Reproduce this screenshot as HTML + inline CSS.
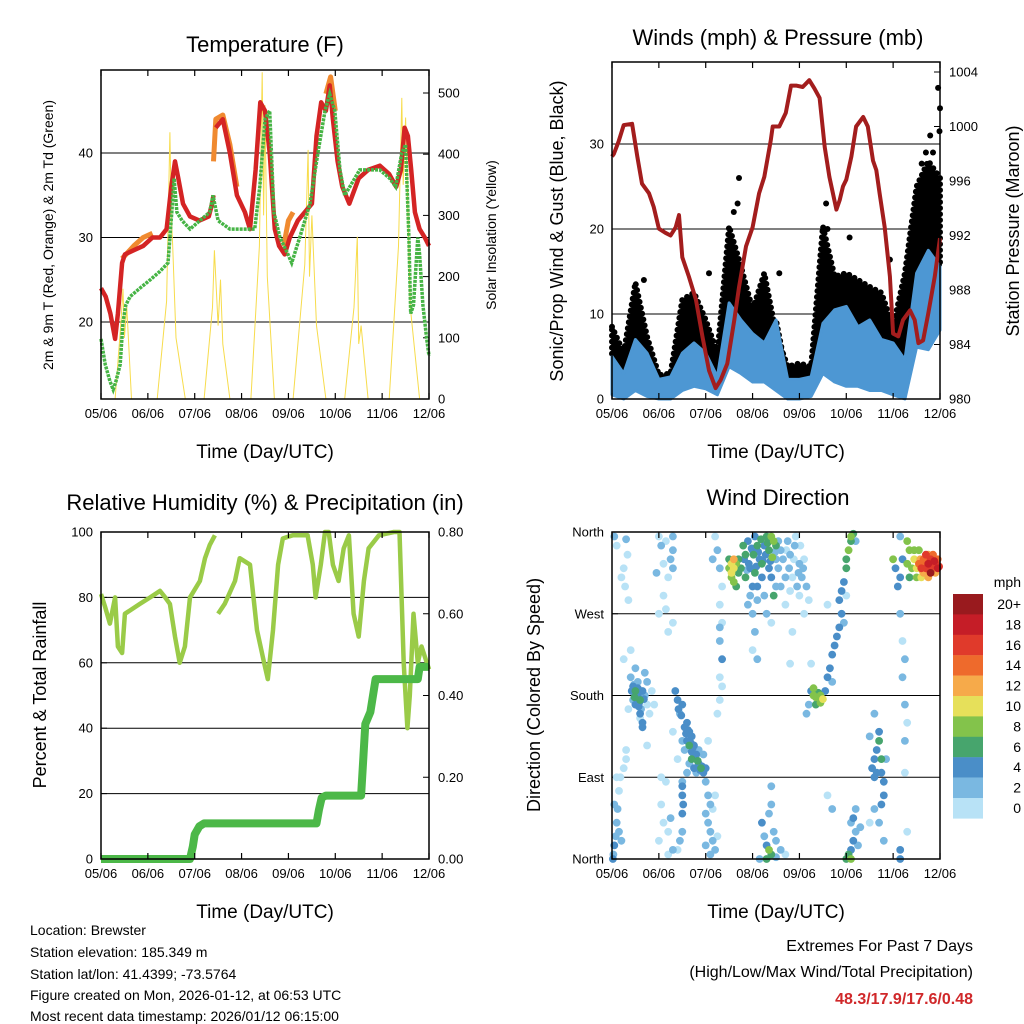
<!DOCTYPE html>
<html><head><meta charset="utf-8"><style>
body{margin:0;background:#fff}
svg{display:block;font-family:"Liberation Sans",sans-serif}
</style></head><body>
<svg id="svg" width="1024" height="1024" viewBox="0 0 1024 1024" xmlns="http://www.w3.org/2000/svg">
<rect width="1024" height="1024" fill="#fff"/>
<g id="layer"></g>
<text x="265" y="52" font-size="22" text-anchor="middle">Temperature (F)</text>
<text x="778" y="45" font-size="22" text-anchor="middle">Winds (mph) &amp; Pressure (mb)</text>
<text x="265" y="510" font-size="22" text-anchor="middle">Relative Humidity (%) &amp; Precipitation (in)</text>
<text x="778" y="505" font-size="22" text-anchor="middle">Wind Direction</text>
<text x="265" y="458" font-size="19" text-anchor="middle">Time (Day/UTC)</text>
<text x="776" y="458" font-size="19" text-anchor="middle">Time (Day/UTC)</text>
<text x="265" y="918" font-size="19" text-anchor="middle">Time (Day/UTC)</text>
<text x="776" y="918" font-size="19" text-anchor="middle">Time (Day/UTC)</text>
<text transform="translate(53,235) rotate(-90)" font-size="14" text-anchor="middle">2m &amp; 9m T (Red, Orange) &amp; 2m Td (Green)</text>
<text transform="translate(496,235) rotate(-90)" font-size="14" text-anchor="middle">Solar Insolation (Yellow)</text>
<text transform="translate(563,231) rotate(-90)" font-size="18" text-anchor="middle">Sonic/Prop Wind &amp; Gust (Blue, Black)</text>
<text transform="translate(1019,231) rotate(-90)" font-size="18" text-anchor="middle">Station Pressure (Maroon)</text>
<text transform="translate(46,695) rotate(-90)" font-size="18" text-anchor="middle">Percent &amp; Total Rainfall</text>
<text transform="translate(540,695) rotate(-90)" font-size="18" text-anchor="middle">Direction (Colored By Speed)</text>
<text x="1021" y="587" font-size="14" text-anchor="end">mph</text>
<g font-size="14">
<text x="30" y="935">Location: Brewster</text>
<text x="30" y="957">Station elevation: 185.349 m</text>
<text x="30" y="979">Station lat/lon: 41.4399; -73.5764</text>
<text x="30" y="1000">Figure created on Mon, 2026-01-12, at 06:53 UTC</text>
<text x="30" y="1021">Most recent data timestamp: 2026/01/12 06:15:00</text>
</g>
<g font-size="16" text-anchor="end">
<text x="973" y="951">Extremes For Past 7 Days</text>
<text x="973" y="977">(High/Low/Max Wind/Total Precipitation)</text>
<text x="973" y="1004" fill="#d0282a" font-weight="bold">48.3/17.9/17.6/0.48</text>
</g>
</svg>
<script>
// ---------- data ----------
const dayLabels=["05/06","06/06","07/06","08/06","09/06","10/06","11/06","12/06"];
const tempT=[0,0.1,0.2,0.3,0.36,0.45,0.51,0.7,0.9,1.1,1.26,1.4,1.5,1.58,1.65,1.75,1.9,2.1,2.3,2.37,2.4,NaN,2.45,2.6,2.75,2.9,3.07,3.18,3.3,3.4,3.5,3.6,3.71,3.8,3.92,4.03,4.2,4.35,4.5,4.6,4.7,4.8,4.88,4.95,5.05,5.15,5.3,5.5,5.7,5.95,6.15,6.3,6.4,6.48,6.55,6.62,6.7,6.8,6.91,7];
const tempRed=[24,23,21,18,21,27,28,28.5,29,30,30,31,36,39,37,34,32.5,32,32.5,34,35,NaN,43,44,40,35,33,31,38,46,45,40,31,29,28,30,32,33,34,42,46,45,48,44,39,36,34,37,38,38.5,37.5,36,38,43,42,38,33,31,30,29];
const orangeT=[0.45,0.7,0.9,1.1,NaN,2.4,2.45,2.6,2.75,2.9,NaN,3.9,4.0,4.1,NaN,4.8,4.9,5.0];
const tempOrange=[27.5,29,30,30.5,NaN,39,44,44.5,41,36,NaN,29,32,33,NaN,47,49,45];
const dewT=[0,0.09,0.19,0.26,0.32,0.41,0.47,0.53,0.62,0.83,1.05,1.26,1.43,1.51,1.56,1.62,1.73,1.9,2.11,2.32,2.39,2.5,2.75,3.07,3.28,3.39,3.5,3.6,3.69,3.82,3.99,4.07,4.24,4.46,4.63,4.78,4.88,4.99,5.1,5.2,5.31,5.52,5.95,6.16,6.29,6.42,6.5,6.57,6.61,6.67,6.76,6.8,6.87,6.95,7];
const dewG=[18,15,13,12,13,15,20,22,23,24,25,26,27,33,37,33,32,31,32,33,35,32,31,31,31,36,44,45,33,30,28,27,30,34,40,45,47,45,38,35,36,38,38,37,36,40,41,30,21,22,30,28,22,18,16];
const solarT=[0,0.3,0.42,0.47,0.5,0.55,0.65,1.2,1.4,1.47,1.5,1.53,1.6,1.8,2.2,2.38,2.42,2.5,2.55,2.6,2.75,3.2,3.38,3.44,3.47,3.5,3.55,3.7,4.1,4.35,4.42,4.45,4.5,4.6,4.8,5.2,5.4,5.47,5.5,5.55,5.7,6.15,6.35,6.42,6.45,6.5,6.6,6.8,7];
const solarV=[0,0,120,180,100,150,0,0,160,436,300,250,100,0,0,150,243,120,195,90,0,0,250,534,300,480,200,0,0,220,407,200,300,120,0,0,150,265,90,120,0,0,250,492,350,460,150,0,0];
const windT=[0,0.25,0.5,0.75,1,1.25,1.5,1.75,2,2.25,2.5,2.75,3,3.25,3.5,3.75,4,4.25,4.5,4.75,5,5.25,5.5,5.75,6,6.25,6.5,6.75,7];
const windHi=[5,3,7,5.4,2.3,2.6,5.4,6.6,5.4,2.6,11.3,9.3,7.7,6.6,9.3,2.3,2.3,2.6,8.9,10.5,10.9,8.5,9.3,7,6.6,4.6,14.8,17.5,15.6];
const windLo=[0.5,0,1,0.3,0,0,1,1.5,1.2,0.5,3.8,3,2,2,1,0,0,0.3,3,2,1.5,1.5,1,1,0.5,0,6.1,5.8,8.1];
const gustHi=[8.5,5.4,13.7,7.3,2.8,3,11.7,12.5,9.3,5.4,20.3,15.6,10.5,14.8,7.7,3.8,4.2,3.8,20.3,14.4,14.8,14,13.2,12.5,8.5,14.8,25,28,26];
const gustOutT=[2.71,2.68,4.57,5.07,5.93,6.96,7.0,6.79,6.99,6.61,2.07,0.68,3.57,2.6,4.6,6.55,6.7,6.85];
const gustOutV=[26,23,23,19,16.4,36.6,34.2,31,31.5,27.7,14.8,14,14.8,22,20,24,29,29];
const presT=[0,0.04,0.14,0.25,0.43,0.54,0.64,0.79,0.89,1.0,1.14,1.25,1.36,1.43,1.5,1.64,1.79,1.93,2.07,2.21,2.32,2.46,2.61,2.71,2.86,3.0,3.14,3.25,3.39,3.43,3.57,3.71,3.82,3.93,4.07,4.21,4.32,4.43,4.54,4.64,4.79,4.86,4.93,5.0,5.11,5.21,5.36,5.46,5.57,5.64,5.71,5.82,5.93,6.0,6.11,6.21,6.36,6.46,6.54,6.64,6.75,6.89,7];
const presV=[997.8,998,998.9,1000.1,1000.2,997.8,995.8,995.1,994.1,992.5,992.2,992,992.6,993.5,990.4,989,987.3,984.6,982.1,980.8,981.4,982.6,985.8,988.2,991.2,992.6,995.1,996.3,999,1000,1000,1001,1003,1003,1002.9,1003.4,1002.8,1002.1,998.5,996.3,993.9,994.6,995.6,996.1,997.8,1000,1000.7,1000,997.5,996.8,995.1,992.6,989,984.8,984.6,985.8,986.5,985.8,984.1,984.3,986.3,989,991.8];
const rhT=[0,0.09,0.19,0.3,0.36,0.45,0.51,0.83,1.05,1.26,1.37,1.47,1.58,1.68,1.79,1.9,2.11,2.22,2.32,2.43,NaN,2.5,2.64,2.86,2.96,3.18,3.33,3.48,3.56,3.67,3.78,3.88,4.09,4.41,4.52,4.58,4.69,4.78,4.86,4.95,5.07,5.18,5.29,5.39,5.5,5.61,5.71,5.93,6.25,6.37,6.46,6.54,6.59,6.67,6.76,6.84,7];
const rhV=[81,77,72,80,65,63,75,78,80,82,80,78,68,60,65,80,85,92,96,99,NaN,75,78,85,92,90,70,60,55,70,90,98,99,99,90,80,90,100,100,90,85,95,99,75,68,85,95,99,100,100,60,40,50,75,60,65,58];
const precipT=[0,1.9,1.96,2.0,2.1,2.2,4.6,4.65,4.71,4.8,5.55,5.6,5.64,5.75,5.86,5.95,6.76,6.8,7];
const precipV=[0,0,0.03,0.06,0.08,0.087,0.087,0.12,0.15,0.155,0.155,0.25,0.33,0.36,0.44,0.44,0.44,0.47,0.47];
const dirT=[
0.05,0.1,0.3,0.33,0.25,0.28,0.35,0.2,
0.03,0.05,0.08,0.1,0.12,0.15,0.18,0.05,0.2,0.1,0.02,0.15,0.3,0.25,
0.4,0.45,0.5,0.55,0.6,0.5,0.6,0.65,0.65,0.45,0.7,0.75,0.8,0.75,0.7,0.35,0.55,0.65,0.5,0.9,0.85,0.4,0.25,0.3,0.75,
0.42,0.48,0.52,0.58,0.62,0.55,0.47,0.57,0.68,0.6,
1.0,1.05,1.15,1.3,1.3,1.25,1.3,1.1,0.95,1.2,1.1,1.15,1.2,1.0,1.3,
1.05,1.1,1.0,1.2,1.25,1.3,1.2,1.15,1.05,
1.35,1.4,1.5,1.45,1.6,1.65,1.6,1.7,1.75,1.8,1.7,1.85,1.9,1.95,2.0,1.55,1.65,1.75,1.85,1.5,1.95,2.05,1.3,1.4,1.6,1.8,1.65,1.5,
1.42,1.48,1.55,1.58,1.68,1.72,1.78,1.83,1.88,1.92,1.62,1.7,
1.5,1.5,1.52,1.5,1.45,1.5,1.4,
2.0,2.05,2.1,2.0,2.05,2.1,2.15,2.2,2.25,2.1,2.0,2.15,2.2,
2.25,2.3,2.35,2.3,2.35,2.3,2.35,2.3,2.35,2.3,2.25,2.2,2.15,2.3,
2.5,2.55,2.6,2.55,2.65,2.6,2.7,2.7,2.5,2.65,2.6,2.55,2.75,
2.8,2.85,2.9,2.95,3.0,3.05,3.1,3.15,3.2,3.0,2.95,3.1,3.2,3.25,3.3,3.35,3.4,3.45,3.5,3.35,3.4,3.5,3.55,3.6,3.55,3.65,3.7,3.6,3.5,3.45,2.85,3.05,2.9,3.1,3.25,3.0,3.05,3.0,3.1,3.3,3.4,
2.82,2.92,3.02,3.12,3.22,3.32,3.42,2.88,2.98,3.08,3.18,3.28,3.38,3.48,
3.75,3.8,3.9,4.0,3.85,3.95,4.05,4.1,4.15,4.2,4.0,3.8,3.7,4.1,3.85,4.25,3.8,
3.72,3.78,3.88,3.92,3.98,4.02,4.08,
3.3,3.35,3.4,3.3,3.25,3.5,3.45,3.35,3.4,3.4,3.2,3.6,3.7,3.5,3.15,
4.3,4.35,4.4,4.45,4.5,4.35,4.25,4.55,4.2,4.15,4.3,4.45,
4.6,4.65,4.7,4.75,4.8,4.85,4.9,4.85,4.9,4.95,5.0,5.0,5.05,5.1,5.15,5.1,5.2,4.7,4.6,4.95,5.0,
5.0,5.05,5.1,5.15,5.2,5.15,5.2,5.1,5.25,5.3,5.1,4.6,4.7,
5.55,5.6,5.65,5.7,5.75,5.65,5.6,5.75,5.8,5.7,5.5,5.8,5.75,5.7,5.8,5.6,5.5,5.85,5.6,
6.15,6.2,6.15,6.1,6.15,6.2,6.25,6.2,6.25,6.3,6.25,6.25,6.3,6.15,6.15,6.05,6.0,
6.3,6.35,6.45,6.5,6.4,6.35,6.3,6.5,6.45,
6.55,6.6,6.65,6.7,6.75,6.8,6.85,6.9,6.95,6.65,6.75,6.85,6.9,6.6,6.8,6.7,6.95,6.75,6.55,6.98,6.88,6.62,
6.58,6.68,6.78,6.88,6.72,6.82,6.92,6.63];
const dirDeg=[
355,345,352,335,320,300,285,310,
5,15,25,40,55,75,90,60,20,90,0,30,110,100,
200,190,185,180,175,170,160,150,145,175,180,170,160,195,205,165,195,185,210,170,185,230,220,120,125,
185,178,182,172,165,188,192,168,176,155,
355,345,350,355,340,330,320,325,315,310,290,275,250,270,260,
60,40,20,30,45,10,5,85,90,
185,175,170,160,150,140,130,135,125,115,110,105,100,95,100,120,105,100,120,130,115,130,140,110,95,95,125,85,
165,158,145,138,128,122,112,108,98,102,142,118,
80,70,60,50,20,30,10,
85,70,60,50,40,30,20,10,25,5,15,55,70,
340,320,300,280,260,240,220,200,190,175,160,355,330,255,
320,315,320,310,325,305,330,315,330,300,330,325,320,
345,335,350,320,340,355,345,330,310,300,290,300,325,345,355,340,355,350,345,320,310,330,320,340,350,330,310,300,300,290,310,315,280,285,290,270,250,230,220,270,260,
330,325,335,338,328,348,332,318,342,322,352,335,328,338,
350,335,345,325,310,300,310,330,300,285,290,295,280,270,250,215,215,
340,320,330,355,315,345,320,
0,10,5,15,25,20,30,50,60,80,40,10,5,2,0,
180,178,183,180,176,170,185,185,170,160,188,172,
200,210,225,235,245,255,270,285,295,305,320,330,340,350,358,355,350,195,280,260,290,
0,5,10,20,30,45,55,40,15,35,0,70,55,
100,110,120,130,110,95,90,95,85,140,135,70,60,40,20,55,40,110,160,
355,330,310,300,270,240,220,200,170,150,130,95,30,10,0,320,330,
350,340,330,320,320,310,325,310,340,
325,320,330,320,325,330,320,325,330,315,335,335,315,310,315,335,320,310,340,322,328,318,
330,325,318,328,330,322,326,312];
const dirSpd=[
2,1,2,1,1,1,1,1,
3,4,2,2,2,1,1,2,2,1,4,2,1,1,
3,4,6,5,6,4,4,4,4,2,2,1,1,2,3,1,2,4,2,1,1,1,1,1,1,
4,6,4,4,2,4,2,4,4,1,
1,2,1,2,2,2,3,1,2,1,1,1,1,1,1,
1,1,1,1,2,2,1,1,1,
4,4,4,2,4,4,5,4,4,4,6,4,6,5,4,3,3,4,2,2,2,1,1,1,2,3,6,2,
4,4,4,4,4,4,4,6,4,4,4,4,
4,4,4,4,2,2,1,
3,2,2,2,3,2,2,2,1,2,2,1,1,
2,3,1,1,1,2,4,1,1,1,1,1,3,2,
8,10,10,8,8,8,6,6,6,6,12,10,6,
6,6,4,4,4,4,6,4,4,4,2,4,6,4,6,6,8,8,6,4,4,2,2,2,2,2,2,2,2,6,6,6,2,2,2,2,2,1,2,2,1,
4,4,6,4,4,6,8,2,4,4,6,4,4,2,
2,2,2,2,1,2,2,1,2,1,1,1,1,1,1,1,1,
1,2,1,1,2,1,2,
6,8,6,4,2,2,2,2,3,3,4,2,1,2,3,
8,8,6,8,10,6,4,4,2,2,8,8,
4,4,4,4,4,4,4,4,4,4,6,6,8,6,6,8,2,2,1,2,1,
6,6,4,4,3,4,3,2,2,2,8,1,2,
4,4,4,6,6,4,4,4,4,4,2,4,4,2,2,2,1,2,2,
3,4,4,4,2,1,2,2,2,1,2,1,1,4,4,4,8,
8,8,10,10,8,6,8,8,8,
14,16,14,16,18,16,14,16,14,12,12,14,12,10,20,16,18,12,8,16,14,12,
12,14,16,18,14,16,12,10];
const spdColors=["#b8e2f6","#7ab8e1","#4a8ec8","#47a56d","#83c34b","#e6e05a","#f6aa4a","#ee6a2c","#e03a2b","#c51d27","#991a1e"];
const spdLabels=["0","2","4","6","8","10","12","14","16","18","20+"];
const tempTicks=[20,30,40], solarTicks=[0,100,200,300,400,500];
const windTicks=[0,10,20,30], presTicks=[980,984,988,992,996,1000,1004];
const rhTicks=[0,20,40,60,80,100], precipTicks=[0,0.2,0.4,0.6,0.8];
const dirTicks=[0,90,180,270,360], dirLabels=["North","East","South","West","North"];

// ---------- helpers ----------
const NS="http://www.w3.org/2000/svg";
const layer=document.getElementById('layer');
function mk(tag,attrs,parent){const e=document.createElementNS(NS,tag);for(const k in attrs)e.setAttribute(k,attrs[k]);(parent||layer).appendChild(e);return e;}
function lin(d0,d1,r0,r1){return v=>r0+(v-d0)*(r1-r0)/(d1-d0);}
function pathFrom(ts,vs,sx,sy){let d="",pen=false;for(let i=0;i<ts.length;i++){if(isNaN(ts[i])||isNaN(vs[i])){pen=false;continue;}d+=(pen?"L":"M")+sx(ts[i]).toFixed(1)+","+sy(vs[i]).toFixed(1);pen=true;}return d;}
function bandFrom(ts,lo,hi,sx,sy){let d="";for(let i=0;i<ts.length;i++)d+=(i?"L":"M")+sx(ts[i]).toFixed(1)+","+sy(hi[i]).toFixed(1);for(let i=ts.length-1;i>=0;i--)d+="L"+sx(ts[i]).toFixed(1)+","+sy(lo[i]).toFixed(1);return d+"Z";}

function frame(x0,x1,y0,y1,sx,name){
  const g=mk('g',{});
  
  
  mk('rect',{x:x0,y:y0,width:x1-x0,height:y1-y0,fill:'none',stroke:'#000','stroke-width':1.5},g);
  dayLabels.forEach((lab,i)=>{
    const x=sx(i);
    mk('line',{x1:x,x2:x,y1:y1,y2:y1-6,stroke:'#000','stroke-width':1.2},g);
    mk('line',{x1:x,x2:x,y1:y0,y2:y0+6,stroke:'#000','stroke-width':1.2},g);
    const t=mk('text',{x:x,y:y1+19,'font-size':13,'text-anchor':'middle'},g);
    
    
    t.textContent=lab;
  });
}
function yAxis(ticks,labels,sy,x0,x1,side,grid,name,digits){
  const g=mk('g',{});
  
  
  ticks.forEach((v,i)=>{
    const y=sy(v);
    if(grid) mk('line',{x1:x0,x2:x1,y1:y,y2:y,stroke:'#000','stroke-width':1},g);
    if(side==='left'){mk('line',{x1:x0,x2:x0+6,y1:y,y2:y,stroke:'#000'},g);}
    else{mk('line',{x1:x1,x2:x1-6,y1:y,y2:y,stroke:'#000'},g);}
    const t=mk('text',{x:side==='left'?x0-8:x1+9,y:y+4.5,'font-size':13,'text-anchor':side==='left'?'end':'start'},g);
    t.textContent=labels?labels[i]:(digits!=null?v.toFixed(digits):String(v));
  });
}

// ---------- Panel 1: temperature ----------
{
  const sx=lin(0,7,101,429), sy=lin(20,40,322,153), sr=lin(0,500,399,93);
  yAxis(tempTicks,null,sy,101,429,'left',true,'temp-y-axis');
  yAxis(solarTicks,null,sr,101,429,'right',false,'solar-y-axis');
  const s=mk('path',{d:pathFrom(solarT,solarV,sx,sr),fill:'none',stroke:'#f7dc4c','stroke-width':1});
  
  
  const o=mk('path',{d:pathFrom(orangeT,tempOrange,sx,sy),fill:'none',stroke:'#f08a30','stroke-width':5,'stroke-linejoin':'round'});
  
  
  const r=mk('path',{d:pathFrom(tempT,tempRed,sx,sy),fill:'none',stroke:'#d42424','stroke-width':4.5,'stroke-linejoin':'round'});
  
  
  const gr=mk('path',{d:pathFrom(dewT,dewG,sx,sy),fill:'none',stroke:'#46b445','stroke-width':3.5,'stroke-dasharray':'3 1'});
  
  
  frame(101,429,70,399,sx,'temp');
}
// ---------- Panel 2: winds ----------
{
  const sx=lin(0,7,612,940), sy=lin(0,30,399,144), sp=lin(980,1004,399,72);
  yAxis(windTicks,null,sy,612,940,'left',true,'wind-y-axis');
  yAxis(presTicks,null,sp,612,940,'right',false,'pressure-y-axis');
  const gb=mk('path',{d:bandFrom(windT,windHi,gustHi,sx,sy),fill:'#000',stroke:'#000','stroke-width':6,'stroke-linecap':'round','stroke-dasharray':'0 6'});
  
  
  const go=mk('g',{});
  
  
  gustOutT.forEach((t,i)=>{
    const c=mk('circle',{cx:sx(t).toFixed(1),cy:sy(gustOutV[i]).toFixed(1),r:3,fill:'#000'},go);
    
    
  });
  const wb=mk('path',{d:bandFrom(windT,windLo,windHi,sx,sy),fill:'#4d97d3',stroke:'#4d97d3','stroke-width':3,'stroke-linejoin':'round'});
  
  
  const p=mk('path',{d:pathFrom(presT,presV,sx,sp),fill:'none',stroke:'#a31d1d','stroke-width':4,'stroke-linejoin':'round'});
  
  
  frame(612,940,62,399,sx,'winds');
}
// ---------- Panel 3: RH & precip ----------
{
  const sx=lin(0,7,101,429), sy=lin(0,100,859,532), sp=lin(0,0.8,859,532);
  yAxis(rhTicks,null,sy,101,429,'left',true,'rh-y-axis');
  yAxis(precipTicks,null,sp,101,429,'right',false,'precip-y-axis',2);
  const rh=mk('path',{d:pathFrom(rhT,rhV,sx,sy),fill:'none',stroke:'#9acb48','stroke-width':4.5,'stroke-linejoin':'round'});
  
  
  const pr=mk('path',{d:pathFrom(precipT,precipV,sx,sp),fill:'none',stroke:'#4cb848','stroke-width':8,'stroke-linejoin':'round'});
  
  
  frame(101,429,532,859,sx,'rh');
}
// ---------- Panel 4: wind direction ----------
{
  const sx=lin(0,7,612,940), sy=lin(0,360,859,532);
  yAxis(dirTicks,dirLabels,sy,612,940,'left',true,'dir-y-axis');
  const g=mk('g',{});
  
  
  const n=Math.min(dirT.length,dirDeg.length,dirSpd.length);
  const idx=[...Array(n).keys()].sort((a,b)=>dirSpd[a]-dirSpd[b]);
  idx.forEach(i=>{
    const b=Math.min(10,Math.floor(dirSpd[i]/2));
    const c=mk('circle',{cx:sx(dirT[i]).toFixed(1),cy:sy(dirDeg[i]).toFixed(1),r:3.9,fill:spdColors[b]},g);
    
    
  });
  frame(612,940,532,859,sx,'dir');
  const cb=mk('g',{});
  
  
  for(let k=0;k<11;k++){
    const j=10-k, y=594+k*20.4;
    mk('rect',{x:953,y:y,width:30,height:20.6,fill:spdColors[j]},cb);
    const t=mk('text',{x:1021,y:y+15,'font-size':14,'text-anchor':'end'},cb);
    t.textContent=spdLabels[j];
  }
}
</script>
</body></html>
